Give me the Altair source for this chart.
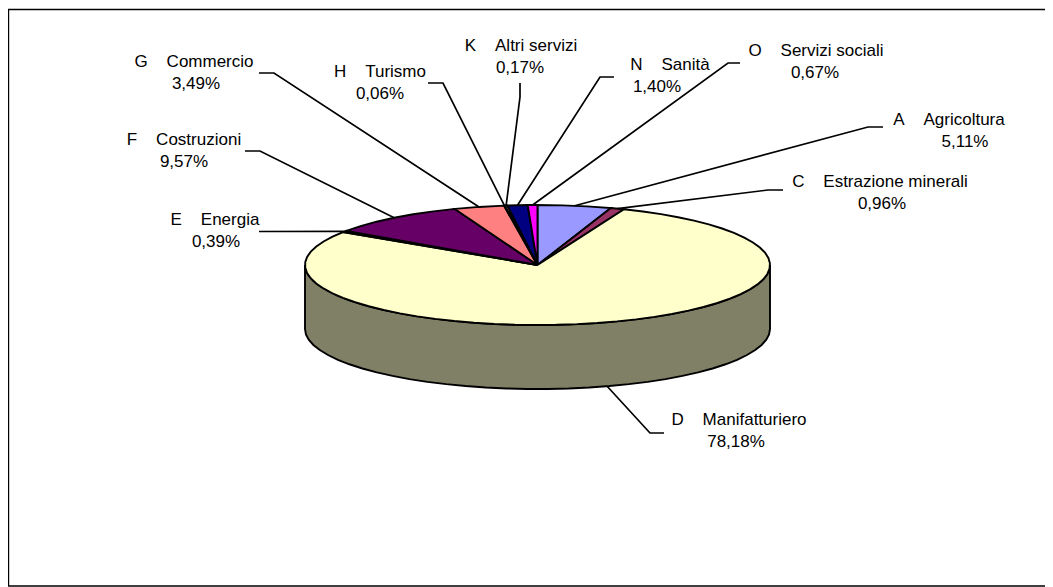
import math
import altair as alt
import pandas as pd

# ---- values ----
codes = ["A", "C", "D", "E", "F", "G", "H", "K", "N", "O"]
names = ["Agricoltura", "Estrazione minerali", "Manifatturiero", "Energia", "Costruzioni",
         "Commercio", "Turismo", "Altri servizi", "Sanità", "Servizi sociali"]
shares = [5.11, 0.96, 78.18, 0.39, 9.57, 3.49, 0.06, 0.17, 1.40, 0.67]
colors = ["#9999FF", "#993366", "#FFFFCC", "#CCFFFF", "#660066",
          "#FF8080", "#0066CC", "#CCCCFF", "#000080", "#FF00FF"]
wall_color = "#808066"

# ---- layout of the tilted pie, in page pixels ----
CX, CY, RX, RY, DEPTH = 537.5, 265.0, 232.5, 60.0, 64.0
label_cx = [949, 880, 739, 215, 184, 194, 380, 521, 670, 816]
label_y = [120, 182, 420, 220, 140, 62, 72, 46, 65, 51]
value_cx = [965, 882, 736, 216, 184, 196, 380, 520, 657, 815]
elbow_a = [(868, 127), (768, 190), (650, 433), (259, 231.5), (260, 151), (274, 73),
           (443, 83), (520, 97), (600, 77), (728, 63)]
elbow_b = [(883, 127), (783, 190), (664, 433), (259, 231.5), (245, 151), (259, 73),
           (428, 83), (520, 83), (614, 77), (740, 63)]


def rim(pct, drop=0.0):
    t = math.radians(pct * 3.6)
    return CX + RX * math.sin(t), CY - RY * math.cos(t) + drop


def arc(p0, p1, drop=0.0, step=1.4):
    n = max(1, int(abs(p1 - p0) / step))
    return [rim(p0 + (p1 - p0) * k / n, drop) for k in range(n + 1)]


X = alt.X("x:Q", scale=alt.Scale(domain=[8, 1045]), axis=None)
Y = alt.Y("y:Q", scale=alt.Scale(domain=[587, 8]), axis=None)


def poly(points, fill, sw=1.9):
    df = pd.DataFrame([{"x": p[0], "y": p[1], "i": i} for i, p in enumerate(points)])
    return alt.Chart(df).mark_line(fill=fill, stroke="black", strokeWidth=sw).encode(
        x=X, y=Y, order="i:Q")


layers = []

# frame (open on the right, where the reference runs off the picture)
frame = [(1045, 9.5), (8.5, 9.5), (8.5, 586), (1045, 586)]
layers.append(poly(frame, "white", 1.4))

# side wall
layers.append(poly(arc(25, 75) + arc(75, 25, DEPTH) + [rim(25)], wall_color))

# top slices
cum = 0.0
mids = []
for s, col in zip(shares, colors):
    pts = [(CX, CY)] + arc(cum, cum + s) + [(CX, CY)]
    layers.append(poly(pts, col))
    mids.append(cum + s / 2)
    cum += s

# leader lines
rows = []
for k, m in enumerate(mids):
    start = rim(m, DEPTH if codes[k] == "D" else 0.0)
    for i, p in enumerate([start, elbow_a[k], elbow_b[k]]):
        rows.append({"x": p[0], "y": p[1], "i": i, "k": codes[k]})
layers.append(alt.Chart(pd.DataFrame(rows)).mark_line(color="black", strokeWidth=1.7).encode(
    x=X, y=Y, order="i:Q", detail="k:N"))

# labels
nb = "\u00a0"
lab = pd.DataFrame({
    "x": label_cx, "y": label_y,
    "t": [c + nb * 4 + n for c, n in zip(codes, names)],
})
val = pd.DataFrame({
    "x": value_cx, "y": [v + 22 for v in label_y],
    "t": [f"{s:.2f}%".replace(".", ",") for s in shares],
})
for d in (lab, val):
    layers.append(alt.Chart(d).mark_text(font="Liberation Sans", fontSize=17, color="black",
                                         align="center", baseline="middle").encode(x=X, y=Y, text="t:N"))

chart = alt.layer(*layers).properties(
    width=1037, height=579, padding=0, autosize=alt.AutoSizeParams(type="none"), background="white"
).configure_view(stroke=None)

chart.save("out.html", embed_options={"renderer": "svg", "actions": False})
